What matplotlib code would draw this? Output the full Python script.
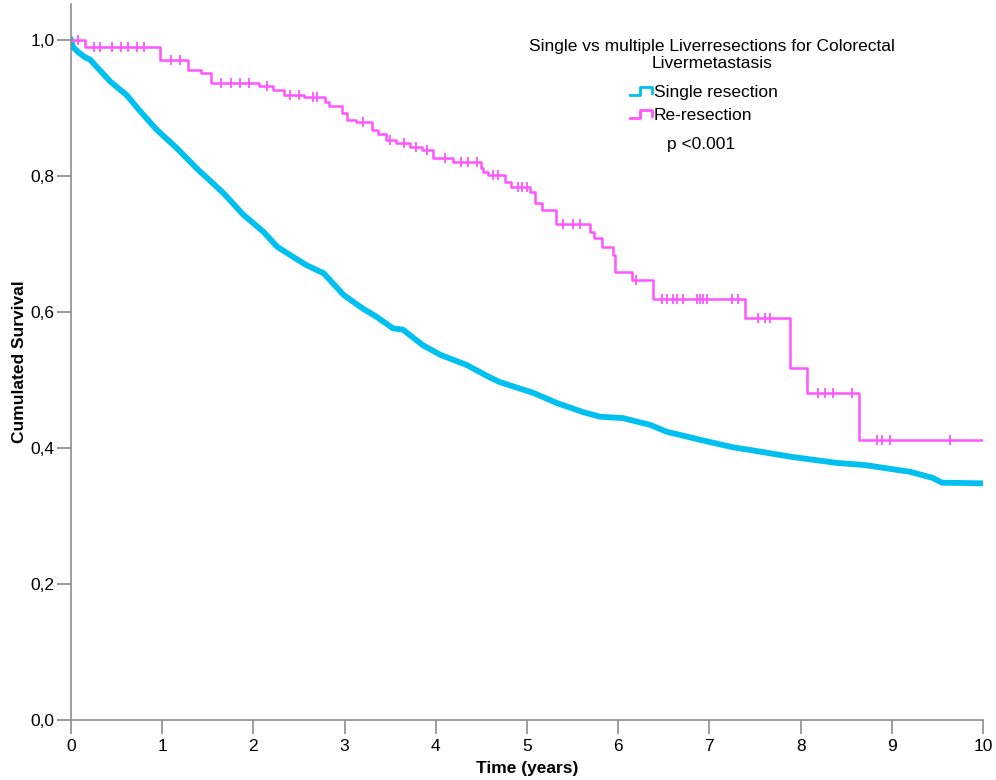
import numpy as np
import matplotlib
matplotlib.use('Agg')
import matplotlib.pyplot as plt
from matplotlib.lines import Line2D
from matplotlib.ticker import FuncFormatter

# single resection curve
single_t = [0.0, 0.02, 0.08, 0.15, 0.21, 0.43, 0.61, 0.76, 0.94, 1.16, 1.38, 1.67, 1.89, 2.11,
            2.26, 2.4, 2.58, 2.77, 2.99, 3.2, 3.35, 3.53, 3.64, 3.86, 4.05, 4.34, 4.59, 4.7,
            5.07, 5.33, 5.61, 5.8, 6.05, 6.35, 6.53, 6.9, 7.26, 7.45, 7.9, 8.4, 8.7, 8.9, 9.2,
            9.45, 9.55, 10.0]
single_s = [1.0, 0.99, 0.982, 0.975, 0.971, 0.939, 0.919, 0.895, 0.868, 0.841, 0.811, 0.775,
            0.743, 0.718, 0.696, 0.684, 0.669, 0.657, 0.625, 0.605, 0.593, 0.576, 0.574, 0.551,
            0.537, 0.522, 0.504, 0.497, 0.481, 0.466, 0.453, 0.446, 0.444, 0.434, 0.424, 0.412,
            0.401, 0.397, 0.387, 0.378, 0.375, 0.371, 0.365, 0.356, 0.349, 0.348]

# re-resection curve (step times and survival after each step)
re_t = [0.0, 0.15, 0.98, 1.28, 1.43, 1.54, 2.06, 2.21, 2.34, 2.56, 2.78, 2.83, 2.97, 3.03, 3.13,
        3.3, 3.37, 3.45, 3.56, 3.72, 3.85, 3.97, 4.19, 4.5, 4.52, 4.57, 4.76, 4.83, 5.03,
        5.09, 5.16, 5.32, 5.69, 5.74, 5.82, 5.94, 5.96, 5.96, 6.15, 6.38, 7.39, 7.88, 8.07,
        8.64, 10.0]
re_s = [1.0, 0.99, 0.971, 0.956, 0.951, 0.937, 0.932, 0.926, 0.919, 0.916, 0.909, 0.903, 0.893,
        0.882, 0.879, 0.868, 0.862, 0.853, 0.848, 0.843, 0.838, 0.826, 0.821, 0.812, 0.806,
        0.801, 0.791, 0.784, 0.776, 0.76, 0.75, 0.729, 0.718, 0.709, 0.696, 0.684, 0.672,
        0.659, 0.647, 0.619, 0.591, 0.518, 0.481, 0.412, 0.412]

# censored cases, re-resection group
re_cens = [0.08, 0.25, 0.32, 0.45, 0.55, 0.62, 0.72, 0.8, 1.1, 1.2, 1.65, 1.75, 1.85, 1.95,
           2.15, 2.4, 2.5, 2.65, 2.7, 3.2, 3.5, 3.65, 3.78, 3.9, 4.1, 4.28, 4.35, 4.45, 4.63,
           4.68, 4.9, 4.95, 5.0, 5.4, 5.5, 5.58, 6.2, 6.48, 6.53, 6.6, 6.65, 6.71, 6.86, 6.9,
           6.93, 6.97, 7.25, 7.31, 7.53, 7.61, 7.66, 8.19, 8.27, 8.36, 8.56, 8.84, 8.89, 8.98,
           9.64]

x_ticks = [0, 1, 2, 3, 4, 5, 6, 7, 8, 9, 10]
y_ticks = [0.0, 0.2, 0.4, 0.6, 0.8, 1.0]

cyan = '#00c0f0'
pink = '#ff55ff'
grey = '#8c8c8c'

plt.rcParams['font.family'] = ['Liberation Sans', 'DejaVu Sans']

fig = plt.figure(figsize=(9.96, 7.80), dpi=100)
ax = fig.add_axes([71 / 996, 1 - 720 / 780, 912 / 996, 716 / 780])

# big group: drawn as a continuous trace, like the dense KM curve in the original
ax.plot(single_t, single_s, color=cyan, lw=4.2, solid_joinstyle='round')
ax.plot(re_t, re_s, drawstyle='steps-post', color=pink, lw=1.8)

# censor marks sit on the step curve
idx = np.searchsorted(re_t, re_cens, side='right') - 1
ax.plot(re_cens, np.array(re_s)[idx], ls='none', marker='|', ms=7, mew=1.3, color=pink)

ax.set_xlim(0, 10)
ax.set_ylim(0, 716 / 680)
ax.set_xticks(x_ticks)
ax.set_yticks(y_ticks)
ax.yaxis.set_major_formatter(FuncFormatter(lambda v, p: f'{v:.1f}'.replace('.', ',')))

for s in ['top', 'right']:
    ax.spines[s].set_visible(False)
for s in ['left', 'bottom']:
    ax.spines[s].set_color(grey)
    ax.spines[s].set_linewidth(1.2)
ax.tick_params(direction='out', length=10, width=1.2, color=grey, labelsize=12.5, pad=2)
ax.tick_params(axis='x', pad=4)

ax.set_xlabel('Time (years)', fontsize=12.5, fontweight='bold', labelpad=5)
ax.set_ylabel('Cumulated Survival', fontsize=12.5, fontweight='bold', labelpad=2)

# title / legend block
fig.text(712 / 996, 1 - 47 / 780, 'Single vs multiple Liverresections for Colorectal',
         ha='center', va='center', fontsize=12.5)
fig.text(712 / 996, 1 - 64 / 780, 'Livermetastasis', ha='center', va='center', fontsize=12.5)

for yy, col, lab in [(92, cyan, 'Single resection'), (115, pink, 'Re-resection')]:
    xs = np.array([630, 640, 640, 652, 652]) / 996
    ys = 1 - np.array([yy + 3, yy + 3, yy - 5, yy - 5, yy + 1]) / 780
    fig.add_artist(Line2D(xs, ys, color=col, lw=2))
    fig.text(654 / 996, 1 - yy / 780, lab, ha='left', va='center', fontsize=12.5)

fig.text(701 / 996, 1 - 144 / 780, 'p <0.001', ha='center', va='center', fontsize=12.5)

fig.savefig('out.png', dpi=100)
